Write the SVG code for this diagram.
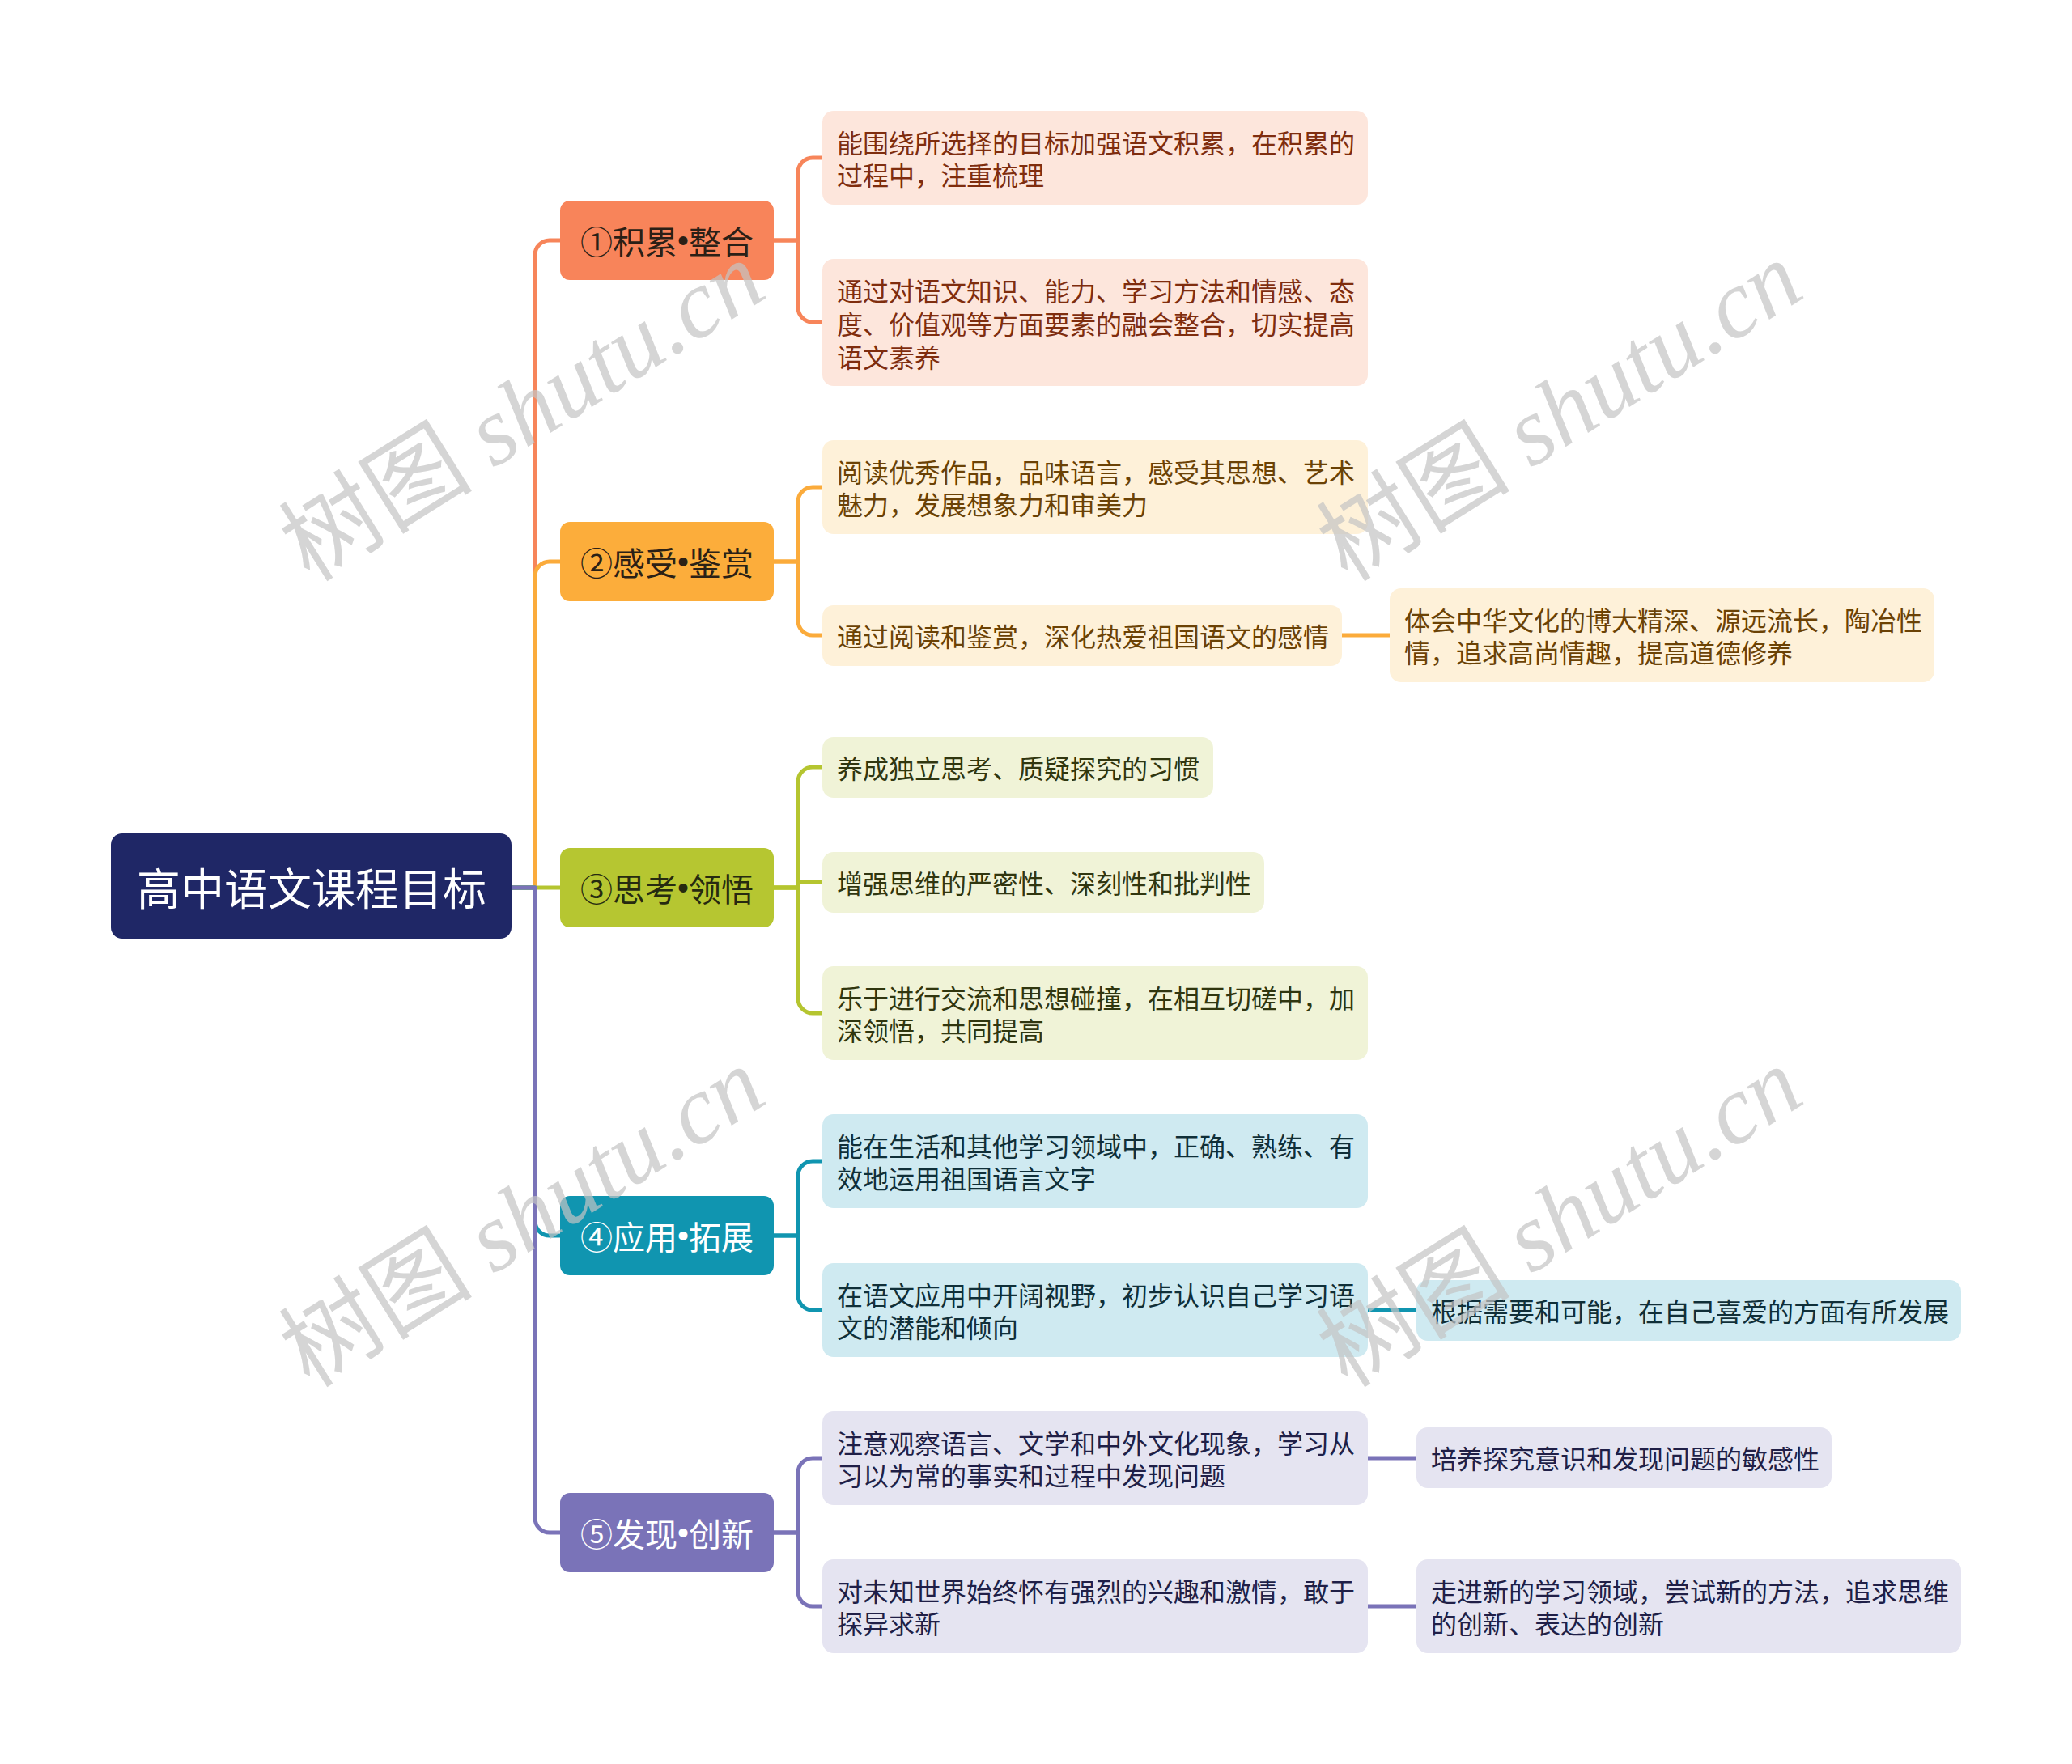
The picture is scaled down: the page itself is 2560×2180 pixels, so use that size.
<svg xmlns="http://www.w3.org/2000/svg" width="2560" height="2180" viewBox="0 0 2560 2180">
<style>
text{font-family:"Noto Sans CJK SC","Noto Sans",sans-serif;}
.lf{font-size:32px;dominant-baseline:central;}
.l1{font-size:40px;dominant-baseline:central;text-anchor:middle;}
.b{font-family:"Liberation Sans",sans-serif;}
.c{fill:none;stroke-width:5;stroke-linejoin:round;}
.o{stroke:#f7855a}.y{stroke:#fbab3b}.g{stroke:#b5c530}.t{stroke:#1095b0}.p{stroke:#7a73b8}
.wm{font-size:120px;fill:#c4c4c4;opacity:0.7;}
</style>
<rect width="2560" height="2180" fill="#ffffff"/>
<g id="connectors">
<path class="c o" d="M632 1097 H661 V315 A18 18 0 0 1 679 297 H692"/>
<path class="c y" d="M632 1097 H661 V712 A18 18 0 0 1 679 694 H692"/>
<path class="c g" d="M632 1097 H692"/>
<path class="c t" d="M632 1097 H661 V1509 A18 18 0 0 0 679 1527 H692"/>
<path class="c p" d="M632 1097 H661 V1876 A18 18 0 0 0 679 1894 H692"/>
<path class="c o" d="M956 297 H986 V213 A18 18 0 0 1 1004 195 H1016"/>
<path class="c o" d="M956 297 H986 V380 A18 18 0 0 0 1004 398 H1016"/>
<path class="c y" d="M956 694 H986 V620 A18 18 0 0 1 1004 602 H1016"/>
<path class="c y" d="M956 694 H986 V767 A18 18 0 0 0 1004 785 H1016"/>
<path class="c g" d="M956 1097 H986 V966 A18 18 0 0 1 1004 948 H1016"/>
<path class="c g" d="M956 1097 H986 V1090 H1016"/>
<path class="c g" d="M956 1097 H986 V1234 A18 18 0 0 0 1004 1252 H1016"/>
<path class="c t" d="M956 1527 H986 V1453 A18 18 0 0 1 1004 1435 H1016"/>
<path class="c t" d="M956 1527 H986 V1601 A18 18 0 0 0 1004 1619 H1016"/>
<path class="c p" d="M956 1894 H986 V1820 A18 18 0 0 1 1004 1802 H1016"/>
<path class="c p" d="M956 1894 H986 V1967 A18 18 0 0 0 1004 1985 H1016"/>
<path class="c y" d="M1658 785 H1717"/>
<path class="c t" d="M1690 1619 H1750"/>
<path class="c p" d="M1690 1802 H1750"/>
<path class="c p" d="M1690 1985 H1750"/>
</g>
<g id="root">
<rect x="137" y="1030" width="495" height="130" rx="14" fill="#1f2766"/>
<text x="385" y="1095" font-size="54" fill="#ffffff" text-anchor="middle" dominant-baseline="central">高中语文课程目标</text>
</g>
<g id="n1">
<rect x="692" y="248" width="264" height="98" rx="12" fill="#f8845a"/>
<text class="l1" x="824" y="297" fill="#2b1f16">①积累<tspan class="b">•</tspan>整合</text>
</g>
<g id="n2">
<rect x="692" y="645" width="264" height="98" rx="12" fill="#fcad3b"/>
<text class="l1" x="824" y="694" fill="#2b2116">②感受<tspan class="b">•</tspan>鉴赏</text>
</g>
<g id="n3">
<rect x="692" y="1048" width="264" height="98" rx="12" fill="#b6c631"/>
<text class="l1" x="824" y="1097" fill="#262a10">③思考<tspan class="b">•</tspan>领悟</text>
</g>
<g id="n4">
<rect x="692" y="1478" width="264" height="98" rx="12" fill="#1095b0"/>
<text class="l1" x="824" y="1527" fill="#ffffff">④应用<tspan class="b">•</tspan>拓展</text>
</g>
<g id="n5">
<rect x="692" y="1845" width="264" height="98" rx="12" fill="#7a73b8"/>
<text class="l1" x="824" y="1894" fill="#ffffff">⑤发现<tspan class="b">•</tspan>创新</text>
</g>
<g id="l1a">
<rect x="1016" y="137" width="674" height="116" rx="14" fill="#fde6dc"/>
<text class="lf" fill="#7f2d0e"><tspan x="1034" y="175">能围绕所选择的目标加强语文积累，在积累的</tspan><tspan x="1034" y="215">过程中，注重梳理</tspan></text>
</g>
<g id="l1b">
<rect x="1016" y="320" width="674" height="157" rx="14" fill="#fde6dc"/>
<text class="lf" fill="#7f2d0e"><tspan x="1034" y="358">通过对语文知识、能力、学习方法和情感、态</tspan><tspan x="1034" y="399">度、价值观等方面要素的融会整合，切实提高</tspan><tspan x="1034" y="440">语文素养</tspan></text>
</g>
<g id="l2a">
<rect x="1016" y="544" width="674" height="116" rx="14" fill="#fef1d9"/>
<text class="lf" fill="#6b4205"><tspan x="1034" y="582">阅读优秀作品，品味语言，感受其思想、艺术</tspan><tspan x="1034" y="622">魅力，发展想象力和审美力</tspan></text>
</g>
<g id="l2b">
<rect x="1016" y="748" width="642" height="75" rx="14" fill="#fef1d9"/>
<text class="lf" x="1034" y="785" fill="#6b4205">通过阅读和鉴赏，深化热爱祖国语文的感情</text>
</g>
<g id="l2b1">
<rect x="1717" y="727" width="673" height="116" rx="14" fill="#fef1d9"/>
<text class="lf" fill="#6b4205"><tspan x="1735" y="765">体会中华文化的博大精深、源远流长，陶冶性</tspan><tspan x="1735" y="805">情，追求高尚情趣，提高道德修养</tspan></text>
</g>
<g id="l3a">
<rect x="1016" y="911" width="483" height="75" rx="14" fill="#f0f3d7"/>
<text class="lf" x="1034" y="948" fill="#30360f">养成独立思考、质疑探究的习惯</text>
</g>
<g id="l3b">
<rect x="1016" y="1053" width="546" height="75" rx="14" fill="#f0f3d7"/>
<text class="lf" x="1034" y="1090" fill="#30360f">增强思维的严密性、深刻性和批判性</text>
</g>
<g id="l3c">
<rect x="1016" y="1194" width="674" height="116" rx="14" fill="#f0f3d7"/>
<text class="lf" fill="#30360f"><tspan x="1034" y="1232">乐于进行交流和思想碰撞，在相互切磋中，加</tspan><tspan x="1034" y="1272">深领悟，共同提高</tspan></text>
</g>
<g id="l4a">
<rect x="1016" y="1377" width="674" height="116" rx="14" fill="#cfeaf1"/>
<text class="lf" fill="#102f38"><tspan x="1034" y="1415">能在生活和其他学习领域中，正确、熟练、有</tspan><tspan x="1034" y="1455">效地运用祖国语言文字</tspan></text>
</g>
<g id="l4b">
<rect x="1016" y="1561" width="674" height="116" rx="14" fill="#cfeaf1"/>
<text class="lf" fill="#102f38"><tspan x="1034" y="1599">在语文应用中开阔视野，初步认识自己学习语</tspan><tspan x="1034" y="1639">文的潜能和倾向</tspan></text>
</g>
<g id="l4b1">
<rect x="1750" y="1582" width="673" height="75" rx="14" fill="#cfeaf1"/>
<text class="lf" x="1768" y="1619" fill="#102f38">根据需要和可能，在自己喜爱的方面有所发展</text>
</g>
<g id="l5a">
<rect x="1016" y="1744" width="674" height="116" rx="14" fill="#e5e4f1"/>
<text class="lf" fill="#201f47"><tspan x="1034" y="1782">注意观察语言、文学和中外文化现象，学习从</tspan><tspan x="1034" y="1822">习以为常的事实和过程中发现问题</tspan></text>
</g>
<g id="l5a1">
<rect x="1750" y="1764" width="513" height="75" rx="14" fill="#e5e4f1"/>
<text class="lf" x="1768" y="1801" fill="#201f47">培养探究意识和发现问题的敏感性</text>
</g>
<g id="l5b">
<rect x="1016" y="1927" width="674" height="116" rx="14" fill="#e5e4f1"/>
<text class="lf" fill="#201f47"><tspan x="1034" y="1965">对未知世界始终怀有强烈的兴趣和激情，敢于</tspan><tspan x="1034" y="2005">探异求新</tspan></text>
</g>
<g id="l5b1">
<rect x="1750" y="1927" width="673" height="116" rx="14" fill="#e5e4f1"/>
<text class="lf" fill="#201f47"><tspan x="1768" y="1965">走进新的学习领域，尝试新的方法，追求思维</tspan><tspan x="1768" y="2005">的创新、表达的创新</tspan></text>
</g>
<g id="watermark">
<text class="wm" transform="translate(667 543) rotate(-32)" text-anchor="middle"><tspan>树图 </tspan><tspan font-family="Liberation Serif" font-style="italic">shutu.cn</tspan></text>
<text class="wm" transform="translate(1949 543) rotate(-32)" text-anchor="middle"><tspan>树图 </tspan><tspan font-family="Liberation Serif" font-style="italic">shutu.cn</tspan></text>
<text class="wm" transform="translate(667 1539) rotate(-32)" text-anchor="middle"><tspan>树图 </tspan><tspan font-family="Liberation Serif" font-style="italic">shutu.cn</tspan></text>
<text class="wm" transform="translate(1949 1539) rotate(-32)" text-anchor="middle"><tspan>树图 </tspan><tspan font-family="Liberation Serif" font-style="italic">shutu.cn</tspan></text>
</g>
</svg>
